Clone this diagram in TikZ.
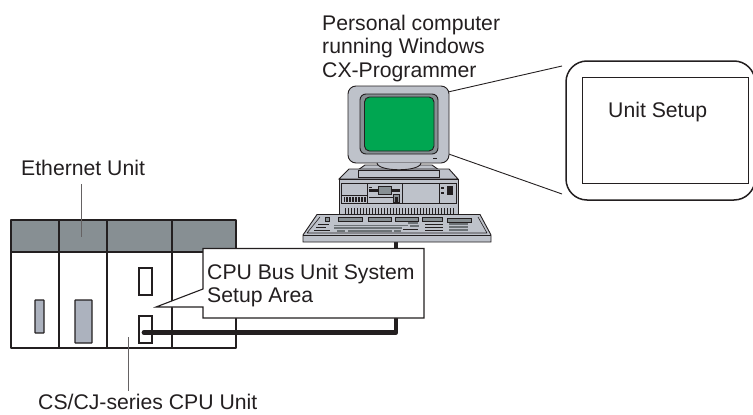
\documentclass[tikz,border=0pt]{standalone}
\usepackage{fontspec}
\setmainfont{Liberation Sans}
\definecolor{bodyg}{RGB}{190,194,202}
\definecolor{darkg}{RGB}{135,143,147}
\definecolor{scr}{RGB}{0,166,81}
\definecolor{ink}{RGB}{35,31,32}
\definecolor{ledg}{RGB}{172,178,190}
\tikzset{
 ln/.style={draw=ink,line width=0.9pt},
 thick2/.style={draw=ink,line width=1.6pt},
 lab/.style={font=\fontsize{21.2}{23.5}\selectfont,text=ink,align=left,inner sep=0pt,anchor=north west},
 leader/.style={draw=ink!70,line width=0.9pt},
 pc/.style={draw=ink,line width=0.9pt,fill=bodyg},
 win/.style={draw=ink,line width=1.3pt,fill=white,minimum width=13pt,minimum height=27pt,inner sep=0pt},
 keyk/.style={fill=darkg,draw=ink,line width=0.5pt},
 keyr/.style={draw=darkg!80!black,line width=1.1pt}
}
\begin{document}
\begin{tikzpicture}[x=1pt,y=-1pt]
\useasboundingbox (0,0) rectangle (753,415);
% PLC
\fill[darkg] (11,220) rectangle (236,252);
\draw[thick2,line join=round] (11,220) rectangle (236,348);
\draw[thick2] (11,252)--(236,252);
\foreach \x in {59,107,172}{\draw[thick2] (\x,220)--(\x,348);}
\draw[ln,line width=1.3pt,fill=ledg,rounded corners=0.5pt] (35,300) rectangle (44,333);
\draw[ln,line width=1.3pt,fill=ledg,rounded corners=0.5pt] (75,300) rectangle (92,343);
\node[win] (win1) at (145.5,281.5) {};
\node[win] (win2) at (145.5,329.5) {};
% leaders
\coordinate (eu) at (81,237);
\coordinate (eut) at (81,184);
\draw[leader] (eut)--(eu);
\coordinate (cpu) at (128.5,337);
\coordinate (cput) at (128.5,391);
\draw[leader] (cpu)--(cput);
% cable
\coordinate (cab0) at (144,332.5);
\coordinate (cab1) at (396,332.5);
\coordinate (cab2) at (396,240);
\draw[draw=ink,line width=4.8pt,line cap=round,line join=round] (cab2)--(cab1)--(cab0);
% callout
\draw[ln,fill=white,line width=1.1pt,line join=miter] (203,248.5)--(424,248.5)--(424,318)--(203,318)--(203,307)--(156,307)--(203,289)--cycle;
\node[lab] (cpuarea) at (207,263.5) {CPU Bus Unit System\\Setup Area};
\node[lab] (ethlab) at (21,159.5) {Ethernet Unit};
\node[lab] (cpulab) at (38,394) {CS/CJ-series CPU Unit};
\node[lab] (pclab) at (322,14.5) {Personal computer\\running Windows\\CX-Programmer};
% Panel
\draw[draw=ink,line width=1.5pt,fill=white,rounded corners=21pt] (566,61) rectangle (755,200);
\node[draw=ink,line width=0.8pt,fill=white,minimum width=166pt,minimum height=106pt,inner sep=0pt] (scrbox) at (665,130) {};
\node[lab] (setup) at (608,101.5) {Unit Setup};
\draw[leader,draw=ink] (448,92)--(562,66);
\draw[leader,draw=ink] (443,152)--(562,194);
% Stand
\fill[bodyg,draw=ink,line width=0.9pt] (365,165)--(432,165)--(439,170)--(358,170)--cycle;
% Case
\fill[bodyg,draw=ink,line width=0.9pt] (339,179)--(349,169)--(449,169)--(458,179)--cycle;
\draw[pc] (339,179) rectangle (458,216);
\draw[pc] (358,170) rectangle (439,177);
\draw[ln] (341,183) rectangle (456,203);
\draw[ln] (367,183)--(367,203) (402,183)--(402,203) (439,183)--(439,203);
\draw[ln] (342,195)--(367,195);
\fill[ink] (369,189) rectangle (400,191.5);
\fill[darkg,draw=ink,line width=0.4pt] (378,186) rectangle (391,194);
\fill[darkg,draw=ink,line width=0.4pt] (393,194) rectangle (399,202);
\fill[ink] (395,197) rectangle (398,202);
\draw[ln] (369,197)--(393,197);
\fill[ink] (447,186) rectangle (453,195);
\fill[ink] (441,187) rectangle (444,189);
\fill[ink] (441,192) rectangle (444,194);
\fill[ink] (369,186.5) rectangle (372,188);
\foreach \x in {0,...,7}{\fill[ink] (343.5+\x*2.9,197) rectangle +(1.8,5);}
\foreach \x in {0,...,36}{\fill[ink] (344.5+\x*3,208) rectangle +(1.6,6);}
% Monitor
\draw[pc,rounded corners=8pt] (348,86) rectangle (449,163);
\draw[ln,fill=bodyg] (377,163) .. controls (378,172) and (420,172) .. (421,163);
\draw[draw=ink,line width=0.9pt,fill=darkg,rounded corners=6pt] (360,94) rectangle (438,154);
\draw[draw=ink,line width=0.9pt,fill=scr,rounded corners=5pt] (364.5,97) rectangle (434,151);
\draw[draw=ink,line width=0.9pt] (433,158)--(437,158);
% Keyboard
\fill[bodyg,draw=ink,line width=0.9pt] (317,214.5)--(480,214.5)--(491,235)--(491,242)--(303,242)--(303,235)--cycle;
\draw[ln] (303,235)--(491,235);
\draw[ln,line width=0.6pt] (307,233)--(320,217) (487,233)--(478,217) (307,233)--(487,233);
\foreach \x/\w in {338/24,368/23,395/23,422/20}{\draw[keyk] (\x,217) rectangle +(\w,4);}
\draw[keyk] (447,218) rectangle +(24,4);
\draw[keyk] (325,217) rectangle +(4,4);
\draw[keyr] (334,225.5)--(408,225.5) (334,228)--(402,228);
\draw[keyr] (337,231)--(345,231) (348,231)--(392,231) (394,231)--(401,231);
\draw[keyr] (408,223)--(418,223) (410,226)--(419,226);
\foreach \y in {224,227,230}{\draw[ink,line width=0.8pt] (425,\y)--(443,\y);\draw[keyr] (449,\y)--(468,\y);}
\draw[ink,line width=0.8pt] (318,224)--(329,224) (316,227)--(326,227) (314,230)--(330,230);
\draw[ink,line width=0.8pt] (403,229)--(418,229);
\end{tikzpicture}
\end{document}
